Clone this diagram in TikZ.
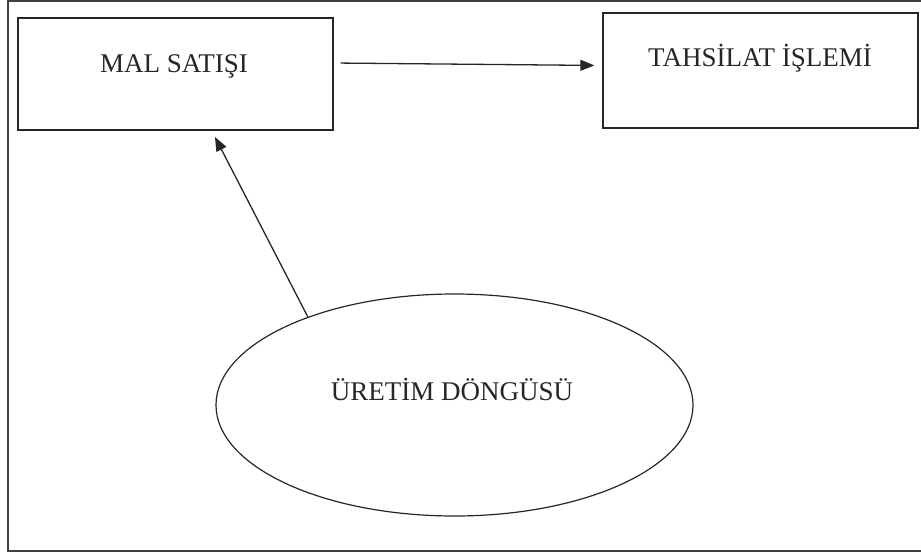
\documentclass[tikz,border=0pt]{standalone}
\usepackage{fontspec}
\setmainfont{Liberation Serif}
\usetikzlibrary{shapes.geometric,arrows.meta}
\begin{document}
\begin{tikzpicture}[x=1pt,y=-1pt,
  box/.style={draw=black!85,line width=1.4pt,minimum width=315pt,inner sep=0pt},
  lbl/.style={font=\fontsize{27}{30}\selectfont,anchor=base,inner sep=0pt,text=black!85},
  arr/.style={draw=black!85,line width=1.3pt,-{Triangle[length=14pt,width=11pt]}}]
\useasboundingbox (0,0) rectangle (921,557);
\draw[black!75,line width=1.6pt] (921,1) -- (8,1) -- (8,551) -- (921,551);
\node[box,minimum height=112pt] (ms) at (175.5,74) {};
\node[lbl] (mst) at (174,72) {MAL SATIŞI};
\node[box,minimum height=115pt] (ts) at (760.5,70.5) {};
\node[lbl] (tst) at (760,66) {TAHSİLAT İŞLEMİ};
\node[draw=black!85,line width=1.2pt,ellipse,minimum width=477pt,minimum height=222pt,inner sep=0pt] (el) at (454.5,405) {};
\node[lbl] (elt) at (452,400.5) {ÜRETİM DÖNGÜSÜ};
\coordinate (tip) at (215,137);
\draw[arr,shorten <=7pt,shorten >=8pt] (ms.east |- 0,63) -- (ts.west |- 0,65.5);
\draw[arr] (el.149) -- (tip);
\end{tikzpicture}
\end{document}
